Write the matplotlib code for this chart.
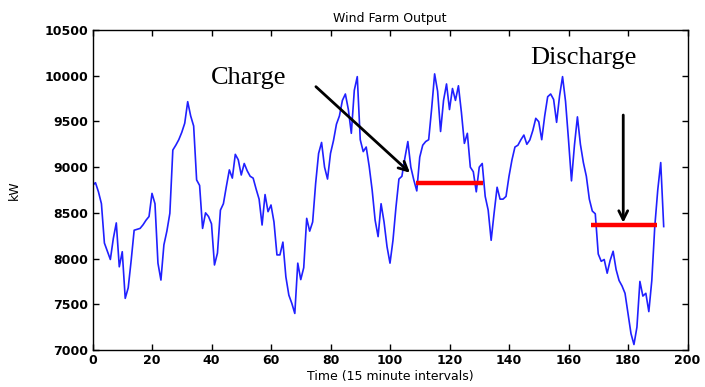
import matplotlib
matplotlib.use("Agg")
import matplotlib.pyplot as plt

# Wind farm output, one value per 15-minute interval (kW)
output_kw = [
    8800, 8830, 8730, 8600, 8170, 8080, 7990, 8220, 8390, 7910,
    8075, 7565, 7680, 7980, 8310, 8320, 8330, 8370, 8420, 8460,
    8713, 8600, 7950, 7765, 8150, 8300, 8495, 9187, 9240, 9300,
    9380, 9480, 9716, 9560, 9450, 8860, 8800, 8330, 8500, 8460,
    8380, 7930, 8060, 8530, 8600, 8790, 8970, 8880, 9140, 9080,
    8914, 9040, 8960, 8900, 8880, 8760, 8650, 8367, 8700, 8513,
    8586, 8400, 8040, 8040, 8180, 7800, 7600, 7510, 7400, 7950,
    7770, 7900, 8440, 8300, 8400, 8820, 9150, 9270, 9000, 8870,
    9150, 9290, 9470, 9560, 9730, 9800, 9630, 9370, 9840, 9990,
    9300, 9170, 9220, 9010, 8750, 8420, 8240, 8600, 8400, 8130,
    7950, 8200, 8560, 8870, 8900, 9100, 9280, 9000, 8860, 8740,
    9110, 9240, 9280, 9300, 9640, 10020, 9830, 9390, 9730, 9910,
    9630, 9860, 9730, 9890, 9600, 9260, 9370, 9000, 8950, 8730,
    9000, 9040, 8680, 8530, 8200, 8500, 8780, 8650, 8650, 8680,
    8900, 9080, 9220, 9240, 9300, 9351, 9250, 9297, 9400, 9534,
    9497, 9300, 9560, 9770, 9800, 9740, 9490, 9780, 9990, 9720,
    9300, 8850, 9240, 9550, 9250, 9050, 8900, 8650, 8520, 8490,
    8050, 7970, 7990, 7840, 7980, 8080, 7880, 7760, 7700, 7620,
    7400, 7180, 7060, 7250, 7750, 7590, 7620, 7420, 7760, 8350,
    8750, 9050, 8350,
]
intervals = list(range(len(output_kw)))

x_ticks = [0, 20, 40, 60, 80, 100, 120, 140, 160, 180, 200]
y_ticks = [7000, 7500, 8000, 8500, 9000, 9500, 10000, 10500]

# annotation values
charge_level = 8823
charge_span = [108.6, 131.4]
discharge_level = 8367
discharge_span = [167.5, 189.9]

fig = plt.figure(figsize=(7.05, 3.87), dpi=100)
ax = fig.add_axes([92.5 / 705, 1 - 350 / 387, 595 / 705, 320 / 387])

ax.plot(intervals, output_kw, color="#2020ff", lw=1.2)

ax.plot(charge_span, [charge_level, charge_level], color="#ff0000", lw=3.2,
        solid_capstyle="butt")
ax.plot(discharge_span, [discharge_level, discharge_level], color="#ff0000",
        lw=3.2, solid_capstyle="butt")

ax.annotate("", xy=(106.7, 8939), xytext=(75.1, 9880),
            arrowprops=dict(arrowstyle="->", color="black", lw=2,
                            mutation_scale=16, shrinkA=0, shrinkB=0))
ax.annotate("", xy=(178.4, 8392), xytext=(178.4, 9570),
            arrowprops=dict(arrowstyle="->", color="black", lw=2,
                            mutation_scale=16, shrinkA=0, shrinkB=0))

ax.text(52.6, 9975, "Charge", family="Liberation Serif", fontsize=19,
        ha="center", va="center")
ax.text(164.9, 10195, "Discharge", family="Liberation Serif", fontsize=19,
        ha="center", va="center")

ax.set_xlim(0, 200)
ax.set_ylim(7000, 10500)
ax.set_xticks(x_ticks)
ax.set_yticks(y_ticks)
ax.tick_params(direction="in", top=True, right=True, length=4, width=1,
               labelsize=9, pad=3)
for lab in ax.get_xticklabels() + ax.get_yticklabels():
    lab.set_fontweight("bold")
for s in ax.spines.values():
    s.set_linewidth(1)

ax.set_title("Wind Farm Output", fontsize=9, pad=6)
ax.set_xlabel("Time (15 minute intervals)", fontsize=9, labelpad=2)
ax.set_ylabel("kW", fontsize=9, labelpad=17)

fig.savefig("out.png", dpi=100)
